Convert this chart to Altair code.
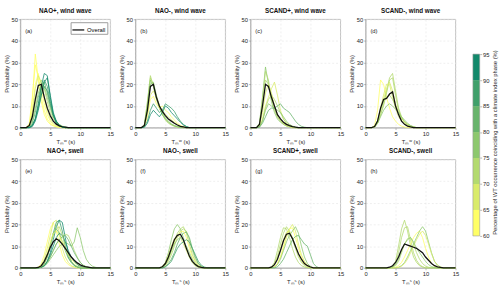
import altair as alt
import pandas as pd

STEP = 0.5
X_MAX = 15.0

titles = ["NAO+, wind wave", "NAO-, wind wave", "SCAND+, wind wave", "SCAND-, wind wave",
          "NAO+, swell", "NAO-, swell", "SCAND+, swell", "SCAND-, swell"]
tags = ["(a)", "(b)", "(c)", "(d)", "(e)", "(f)", "(g)", "(h)"]
xtitles = ["Tₘʷ (s)"] * 4 + ["Tₘˢ (s)"] * 4

# ---- panel (a) NAO+, wind wave : start 1.0 s
a_start = 1.0
a_pct = [62, 61, 64, 67, 72, 77, 83, 86, 88, 92, 94]
a_vals = [
    [0, 1, 12, 34, 22, 12, 6, 3, 1.5, 0.8, 0.4, 0.2, 0],
    [0, 2, 14, 29, 23, 14, 8, 4, 2, 1, 0.5, 0.2, 0],
    [0, 1, 8, 20, 25, 18, 11, 6, 3, 1.5, 0.6, 0.2, 0],
    [0, 1, 7, 18, 24, 21, 14, 8, 4, 2, 1, 0.4, 0],
    [0, 0.5, 4, 12, 19, 22, 18, 12, 7, 4, 2, 1, 0.5, 0.2, 0],
    [0, 0.3, 3, 9, 16, 20, 19, 14, 9, 5, 3, 1.5, 0.7, 0.3, 0],
    [0, 0.2, 2, 7, 14, 19, 21, 16, 10, 5, 2.5, 1, 0.4, 0],
    [0, 0, 1, 4, 9, 15, 19, 17, 11, 6, 3, 1.2, 0.4, 0],
    [0, 0, 1, 4, 10, 17, 22, 19, 12, 6, 2.5, 1, 0.3, 0],
    [0, 0, 1, 4, 11, 19, 25, 24, 14, 6, 2, 0.7, 0.2, 0],
    [0, 0, 0.5, 3, 8, 15, 21, 23, 15, 7, 3, 1, 0.3, 0],
]
a_all = [0, 1, 5, 13, 19.5, 20, 14, 9, 5.5, 3, 1.6, 0.8, 0.4, 0.2, 0]

# ---- panel (b) NAO-, wind wave : start 1.0 s
b_start = 1.0
b_pct = [74, 72, 76, 79, 62, 66, 87, 91]
b_vals = [
    [0, 1.5, 12, 24, 19, 13, 9, 6, 4, 2.5, 1.5, 0.8, 0.4, 0.2, 0],
    [0, 1.5, 11, 23, 20, 14, 9, 6, 3.5, 2, 1.2, 0.6, 0.3, 0],
    [0, 1, 10, 22, 19, 14, 10, 7, 4.5, 3, 1.8, 1, 0.5, 0.2, 0],
    [0, 1, 9, 20, 21, 15, 10, 6, 4, 2.5, 1.5, 0.8, 0.4, 0],
    [0, 0.5, 5, 13, 14.5, 11, 9, 10, 8, 7, 5, 3.5, 2, 1, 0.5, 0.2, 0],
    [0, 0.5, 6, 15, 17, 14, 10, 8, 6, 5, 3.5, 2.5, 1.5, 0.8, 0.3, 0],
    [0, 0.3, 3, 8, 11, 9, 7, 8, 11, 10, 9, 7.5, 5, 3, 1.5, 0.5, 0],
    [0, 0.2, 2, 6, 8, 6.5, 5, 7, 10, 9, 7, 5.5, 4, 2.5, 1.2, 0.5, 0],
]
b_all = [0, 1, 8, 19, 20, 14, 10, 7.5, 5.5, 4, 3, 2, 1.2, 0.6, 0.3, 0]

# ---- panel (c) SCAND+, wind wave : start 1.0 s
c_start = 1.0
c_pct = [76, 73, 70, 66, 71, 68, 78, 80]
c_vals = [
    [0, 2, 14, 28, 20, 12, 7, 4, 2.5, 1.5, 0.8, 0.4, 0.2, 0],
    [0, 2, 13, 26, 22, 13, 8, 5, 3, 1.8, 1, 0.5, 0.2, 0],
    [0, 1.5, 10, 22, 20, 15, 9, 5, 3, 1.5, 0.8, 0.3, 0],
    [0, 0.5, 4, 10, 14, 18, 21, 15, 8, 4, 2, 1, 0.4, 0],
    [0, 0.5, 3, 9, 13, 15, 13, 10, 7, 4, 2, 1, 0.4, 0],
    [0, 1, 7, 16, 20, 16, 10, 6, 3.5, 2, 1, 0.5, 0],
    [0, 0.3, 3, 8, 11, 10, 9, 8, 7, 5, 3, 1.5, 0.7, 0.3, 0],
    [0, 0.2, 2, 5, 8, 9, 9, 10, 11, 9, 8, 7, 5, 3, 1.5, 0.6, 0.2, 0],
]
c_all = [0, 1.5, 10, 20, 19, 14, 10, 6, 4, 2.5, 1.5, 0.9, 0.5, 0.2, 0]

# ---- panel (d) SCAND-, wind wave : start 1.0 s
d_start = 1.0
d_pct = [62, 74, 72, 68, 65, 70, 77]
d_vals = [
    [0, 1, 8, 22, 20, 14, 9, 5, 3, 1.5, 0.7, 0.3, 0],
    [0, 0.3, 2, 6, 11, 17, 23, 25, 17, 9, 5, 2.5, 1.2, 0.5, 0.2, 0],
    [0, 0.2, 2, 6, 10, 16, 22, 23, 15, 8, 4.5, 2.5, 1.2, 0.5, 0.2, 0],
    [0, 0.5, 3, 9, 15, 20, 20, 14, 9, 5, 3, 1.5, 0.8, 0.3, 0],
    [0, 0.5, 3, 8, 13, 18, 21, 17, 11, 7, 4, 2.5, 1.5, 0.8, 0.3, 0],
    [0, 0.5, 3, 8, 12, 14, 15, 13, 10, 7, 4.5, 2.8, 1.6, 0.8, 0.3, 0],
    [0, 0.3, 2, 5, 8, 10, 11, 10, 8.5, 7, 5, 3.5, 2, 1, 0.4, 0],
]
d_all = [0, 0.5, 3, 9, 13, 13.5, 15.5, 16.5, 10, 6, 3, 1.5, 0.7, 0.3, 0]

# ---- panel (e) NAO+, swell : start 2.0 s
e_start = 2.0
e_pct = [63, 66, 88, 92, 83, 70, 76, 80, 64, 90, 73]
e_vals = [
    [0, 0, 0.3, 2, 6, 12, 18, 21, 17, 11, 6, 3, 1.5, 0.7, 0.3, 0],
    [0, 0, 0.2, 1, 4, 9, 15, 21, 22, 16, 9, 5, 2.5, 1, 0.4, 0],
    [0, 0, 0, 0.5, 2, 5, 10, 16, 21, 22, 17, 10, 5, 2.5, 1, 0.4, 0],
    [0, 0, 0, 0.3, 1, 3, 7, 13, 19, 22, 21, 14, 7, 3, 1.2, 0.5, 0],
    [0, 0, 0, 0.5, 2, 6, 11, 16, 18, 16, 12, 8, 4.5, 2.5, 1.2, 0.5, 0.2, 0],
    [0, 0, 0, 0.3, 1, 3, 5, 8, 11, 13, 14.5, 15.5, 15, 12, 8, 5, 2.5, 1.2, 0.5, 0.2, 0],
    [0, 0, 0, 0.2, 0.8, 2, 4, 6, 8, 10, 11, 12, 11, 10, 12, 18.5, 14, 8, 4, 2, 0.8, 0.3, 0],
    [0, 0, 0, 0.3, 1, 2.5, 5, 8, 11, 13, 14.5, 15, 13, 10, 7, 4.5, 2.5, 1.2, 0.5, 0.2, 0],
    [0, 0, 0.2, 1, 3, 7, 12, 16, 17, 15, 12, 9, 6, 4, 2.5, 1.5, 0.8, 0.3, 0],
    [0, 0, 0, 0.3, 1, 3, 6, 10, 14, 16, 15, 12, 8, 5, 3, 1.5, 0.7, 0.3, 0],
    [0, 0, 0, 0.5, 2, 5, 10, 15, 18, 19, 15, 10, 6, 3, 1.5, 0.6, 0.2, 0],
]
e_all = [0, 0, 0.2, 1, 3, 6, 9.5, 12, 13.4, 12.5, 11, 9, 7, 5, 3.5, 2.3, 1.4, 0.8, 0.4, 0.2, 0]

# ---- panel (f) NAO-, swell : start 4.0 s
f_start = 4.0
f_pct = [78, 73, 70, 82, 66, 62, 85, 75]
f_vals = [
    [0, 0.5, 2.5, 7, 13, 18, 20, 18, 14, 9, 5, 2.5, 1, 0.4, 0],
    [0, 0.3, 1.5, 4, 8, 12, 16, 18, 19, 16, 11, 6, 3, 1.2, 0.4, 0],
    [0, 0.2, 1, 3, 6, 10, 14, 17, 18, 17, 13, 8, 4, 1.8, 0.6, 0],
    [0, 0, 0.5, 2, 4, 7, 11, 14, 16, 16.5, 14, 9, 5, 2, 0.7, 0.2, 0],
    [0, 0.5, 2.5, 6, 10, 13.5, 15, 14, 11, 8, 5, 2.5, 1, 0.3, 0],
    [0, 0.3, 1.5, 4, 8, 12, 15, 16.5, 17, 14, 9, 5, 2.5, 1, 0.3, 0],
    [0, 0, 0.5, 1.5, 3, 6, 9, 11, 12, 13, 12, 9, 6, 3, 1.2, 0.4, 0],
    [0, 0.3, 1.5, 4, 8, 11, 13, 14, 12.5, 10, 7, 4, 2, 0.8, 0.2, 0],
]
f_all = [0, 0.5, 2, 5, 9, 13, 15, 15.5, 13, 9, 5.5, 3, 1.5, 0.6, 0.2, 0]

# ---- panel (g) SCAND+, swell : start 3.0 s
g_start = 3.0
g_pct = [72, 66, 64, 74, 77, 80, 69]
g_vals = [
    [0, 0.5, 2.5, 8, 14, 18.5, 18, 14, 9, 5, 2.5, 1, 0.4, 0],
    [0, 0, 0.5, 2, 5, 9, 14, 18, 20, 17, 11, 6, 3, 1.2, 0.4, 0],
    [0, 0, 0.5, 2, 5, 10, 15, 18, 18.5, 14, 9, 5, 2.5, 1, 0.3, 0],
    [0, 0.3, 2, 5.5, 11, 16, 19, 17, 13, 9, 5, 2.5, 1, 0.3, 0],
    [0, 0, 0.3, 1.5, 4, 8, 12, 15, 17, 19, 16, 10, 5, 2, 0.7, 0],
    [0, 0, 0, 0.5, 2, 4, 7, 10, 13, 14.5, 15, 13, 11, 10, 6, 2, 0.5, 0],
    [0, 0.2, 1.5, 4.5, 9, 13, 16.5, 17, 14, 10, 6, 3, 1.5, 0.5, 0],
]
g_all = [0, 0.3, 1.5, 4, 8, 12.5, 15.5, 16, 13.5, 10, 6.5, 4, 2, 1, 0.4, 0]

# ---- panel (h) SCAND-, swell : start 3.5 s
h_start = 3.5
h_pct = [74, 70, 72, 63, 77, 68, 75]
h_vals = [
    [0, 0, 0.5, 3, 10, 18, 22, 17, 10, 5, 2.5, 1, 0.4, 0],
    [0, 0, 0.5, 2, 7, 14, 18.5, 19, 13, 7, 3.5, 1.5, 0.5, 0],
    [0, 0, 0.3, 1, 3, 7, 11, 13.5, 14, 11, 7, 4, 2, 0.8, 0.3, 0],
    [0, 0, 0, 0.3, 1, 2.5, 5, 8, 11, 14, 16, 17, 14, 9, 5, 2, 0.7, 0.2, 0],
    [0, 0, 0, 0, 0.3, 1, 2.5, 5, 8, 11, 14, 17, 19, 17, 12, 7, 3, 1.2, 0.4, 0],
    [0, 0, 0, 0, 0.2, 0.8, 2, 4, 7, 10, 13, 15.5, 17, 15, 11, 6.5, 3, 1.2, 0.4, 0],
    [0, 0, 0.3, 1.5, 4, 8, 11, 13, 14, 12, 9, 7, 5, 3, 1.5, 0.6, 0.2, 0],
]
h_all = [0, 0.3, 1, 2.5, 5, 8.5, 11, 10.5, 10, 9.5, 9, 8, 7, 5, 3.5, 2, 1, 0.5, 0.2, 0]

panels = [
    (a_start, a_pct, a_vals, a_all), (b_start, b_pct, b_vals, b_all),
    (c_start, c_pct, c_vals, c_all), (d_start, d_pct, d_vals, d_all),
    (e_start, e_pct, e_vals, e_all), (f_start, f_pct, f_vals, f_all),
    (g_start, g_pct, g_vals, g_all), (h_start, h_pct, h_vals, h_all),
]

# colour bar classes
cb_edges = [60, 65, 70, 75, 80, 85, 90, 95]
cb_colors = ["#ffff66", "#d9eb6a", "#b3da6f", "#8dc86e", "#68b46c", "#40a06b", "#12896b"]
thr = alt.Scale(type="threshold", domain=cb_edges[1:-1], range=cb_colors)

FONT = "Liberation Sans"
PW, PH = 93, 112
x_ticks = [0, 5, 10, 15]
y_ticks = [0, 10, 20, 30, 40, 50]


def series(start, vals):
    xs, ys = [], []
    n0 = int(round(start / STEP))
    for i in range(n0):
        xs.append(i * STEP); ys.append(0.0)
    for i, v in enumerate(vals):
        xs.append(start + i * STEP); ys.append(v)
    x = start + len(vals) * STEP
    while x <= X_MAX + 1e-9:
        xs.append(x); ys.append(0.0)
        x += STEP
    return xs, ys


def make_panel(k):
    start, pcts, vals, allv = panels[k]
    rows = []
    for j, (p, v) in enumerate(zip(pcts, vals)):
        xs, ys = series(start, v)
        rows += [{"x": a, "y": b, "line": j, "pct": p} for a, b in zip(xs, ys)]
    df = pd.DataFrame(rows)
    xs, ys = series(start, allv)
    dfo = pd.DataFrame({"x": xs, "y": ys, "series": "Overall"})

    xenc = alt.X("x:Q", scale=alt.Scale(domain=[0, 15], nice=False, zero=False),
                 axis=alt.Axis(values=x_ticks, tickCount=len(x_ticks), title=xtitles[k],
                               labelOverlap=False, labelFlush=False))
    yenc = alt.Y("y:Q", scale=alt.Scale(domain=[0, 50], nice=False),
                 axis=alt.Axis(values=y_ticks, tickCount=len(y_ticks), title="Probability (%)",
                               labelOverlap=False, labelFlush=False))

    lines = alt.Chart(df).mark_line(strokeWidth=0.8).encode(
        x=xenc, y=yenc,
        color=alt.Color("pct:Q", scale=thr, legend=None),
        detail="line:N",
    )
    if k == 0:
        leg = alt.Legend(orient="top-right", title=None, offset=3, padding=1,
                         strokeColor="#9a9a9a", fillColor="white", labelFontSize=6,
                         symbolSize=150, symbolStrokeWidth=1.3, symbolType="stroke",
                         labelFont=FONT, rowPadding=0, labelOffset=2)
    else:
        leg = None
    overall = alt.Chart(dfo).mark_line(strokeWidth=1.3).encode(
        x="x:Q", y="y:Q",
        stroke=alt.Stroke("series:N", scale=alt.Scale(domain=["Overall"], range=["#111111"]),
                          legend=leg),
    )
    tag = alt.Chart(pd.DataFrame({"t": [tags[k]]})).mark_text(
        align="left", baseline="middle", fontSize=6, font=FONT, color="#222"
    ).encode(x=alt.value(5), y=alt.value(12), text="t:N")

    return alt.layer(lines, overall, tag).properties(
        width=PW, height=PH,
        title=alt.TitleParams(titles[k], fontSize=6.5, fontWeight="bold", offset=2, font=FONT,
                              color="#111"),
    )


def row(ks):
    return alt.hconcat(*[make_panel(k) for k in ks], spacing=4).resolve_scale(
        stroke="independent").resolve_legend(stroke="independent")


grid = alt.vconcat(row([0, 1, 2, 3]), row([4, 5, 6, 7]), spacing=3).resolve_scale(
    stroke="independent").resolve_legend(stroke="independent")

# colour bar
PAD_TOP = 3
SHIFT = 9
CB_TOP, CB_BOT, CB_H = 48 - PAD_TOP - SHIFT, 236 - PAD_TOP - SHIFT, 254
u = (cb_edges[-1] - cb_edges[0]) / (CB_BOT - CB_TOP)
cb_dom = [cb_edges[0] - (CB_H - CB_BOT) * u, cb_edges[-1] + CB_TOP * u]
cb_df = pd.DataFrame({"lo": cb_edges[:-1], "hi": cb_edges[1:]})
cb_y = alt.Y("lo:Q", scale=alt.Scale(domain=cb_dom, nice=False, zero=False),
             axis=alt.Axis(orient="right", values=cb_edges, tickCount=len(cb_edges),
                           grid=False, domain=False,
                           tickSize=2, labelFontSize=6, titleFontSize=6, titleAngle=270,
                           titleBaseline="top", titlePadding=3, labelOverlap=False,
                           labelFlush=False,
                           title="Percentage of WT occurrence coinciding with a climate index phase (%)"))
cb_rect = alt.Chart(cb_df).mark_rect().encode(
    y=cb_y, y2="hi:Q", x=alt.value(0), x2=alt.value(7),
    color=alt.Color("lo:Q", scale=thr, legend=None),
)
cb_box = alt.Chart(pd.DataFrame({"lo": [cb_edges[0]], "hi": [cb_edges[-1]]})).mark_rect(
    fill=None, stroke="#999", strokeWidth=0.6
).encode(y="lo:Q", y2="hi:Q", x=alt.value(0), x2=alt.value(7))
cbar = alt.layer(cb_rect, cb_box).properties(width=7, height=CB_H,
                                             view=alt.ViewBackground(stroke=None))

chart = alt.hconcat(grid, cbar, spacing=13).resolve_scale(
    stroke="independent", color="shared").resolve_legend(stroke="independent").configure(
    font=FONT, padding={"left": 3, "top": PAD_TOP, "right": 2, "bottom": 2}
).configure_axis(
    labelFontSize=6, titleFontSize=6, labelColor="#262626", titleColor="#262626",
    labelPadding=1, titlePadding=2, tickSize=2, tickColor="#888", domainColor="#999",
    domainWidth=0.6, tickWidth=0.6, gridColor="#e4e4e4", gridDash=[2, 2], gridWidth=0.6,
    titleFontWeight="normal", labelFont=FONT, titleFont=FONT,
).configure_view(stroke="#999", strokeWidth=0.6)

chart.save("out.html", embed_options={"renderer": "svg", "actions": False})
